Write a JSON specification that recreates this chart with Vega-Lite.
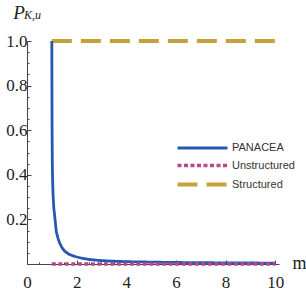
{
  "$schema": "https://vega.github.io/schema/vega-lite/v6.json",
  "autosize": "none",
  "width": 252,
  "height": 223,
  "padding": {"left": 27, "top": 41, "right": 27, "bottom": 34},
  "background": "white",
  "title": {"text": "K,u", "anchor": "start", "orient": "top", "frame": "group", "dx": -3, "offset": -28, "baseline": "alphabetic", "font": "Liberation Serif", "fontSize": 12, "fontStyle": "italic", "fontWeight": "normal", "color": "#222"},
  "config": {"view": {"stroke": null}},
  "data": {"values": [
    {"m": 1, "p": 1, "s": "Structured"},
    {"m": 10, "p": 1, "s": "Structured"},
    {"m": 1, "p": 1.0, "s": "PANACEA"},
    {"m": 1.005, "p": 0.75, "s": "PANACEA"},
    {"m": 1.01, "p": 0.6, "s": "PANACEA"},
    {"m": 1.02, "p": 0.45, "s": "PANACEA"},
    {"m": 1.03, "p": 0.38, "s": "PANACEA"},
    {"m": 1.05, "p": 0.31, "s": "PANACEA"},
    {"m": 1.08, "p": 0.25, "s": "PANACEA"},
    {"m": 1.12, "p": 0.21, "s": "PANACEA"},
    {"m": 1.18, "p": 0.145, "s": "PANACEA"},
    {"m": 1.25, "p": 0.115, "s": "PANACEA"},
    {"m": 1.32, "p": 0.093, "s": "PANACEA"},
    {"m": 1.4, "p": 0.075, "s": "PANACEA"},
    {"m": 1.52, "p": 0.057, "s": "PANACEA"},
    {"m": 1.7, "p": 0.043, "s": "PANACEA"},
    {"m": 1.92, "p": 0.034, "s": "PANACEA"},
    {"m": 2.2, "p": 0.026, "s": "PANACEA"},
    {"m": 2.46, "p": 0.021, "s": "PANACEA"},
    {"m": 2.8, "p": 0.017, "s": "PANACEA"},
    {"m": 3.27, "p": 0.0135, "s": "PANACEA"},
    {"m": 3.7, "p": 0.0115, "s": "PANACEA"},
    {"m": 4.2, "p": 0.01, "s": "PANACEA"},
    {"m": 5, "p": 0.0085, "s": "PANACEA"},
    {"m": 5.55, "p": 0.0075, "s": "PANACEA"},
    {"m": 6.5, "p": 0.0063, "s": "PANACEA"},
    {"m": 7.5, "p": 0.0055, "s": "PANACEA"},
    {"m": 8.5, "p": 0.0048, "s": "PANACEA"},
    {"m": 10, "p": 0.004, "s": "PANACEA"},
    {"m": 1, "p": 0, "s": "Unstructured"},
    {"m": 10, "p": 0, "s": "Unstructured"}
  ]},
  "mark": {"type": "line", "clip": false, "strokeCap": "butt"},
  "encoding": {
    "x": {"field": "m", "type": "quantitative",
      "scale": {"domain": [0, 10.15], "nice": false, "zero": false},
      "axis": {
        "values": [0, 0.5, 1, 1.5, 2, 2.5, 3, 3.5, 4, 4.5, 5, 5.5, 6, 6.5, 7, 7.5, 8, 8.5, 9, 9.5, 10],
        "labelExpr": "datum.value % 2 === 0 ? datum.value : ''",
        "grid": false,
        "domainColor": "#444", "tickColor": "#444", "domainWidth": 1, "tickWidth": 1,
        "tickSize": {"condition": {"test": "datum.value % 2 === 0", "value": -4}, "value": -2},
        "labelFont": "Liberation Serif", "labelFontSize": 17, "labelColor": "#222",
        "labelPadding": 14, "labelBaseline": "top", "labelFlush": false, "labelOverlap": false,
        "title": "m", "titleFont": "Liberation Serif", "titleFontSize": 18, "titleFontWeight": "normal", "titleColor": "#222",
        "titleX": 272, "titleY": 4, "titleAlign": "center", "titleBaseline": "alphabetic", "titleAnchor": null
      }
    },
    "y": {"field": "p", "type": "quantitative",
      "scale": {"domain": [0, 1], "nice": false},
      "axis": {
        "values": [0, 0.05, 0.1, 0.15, 0.2, 0.25, 0.3, 0.35, 0.4, 0.45, 0.5, 0.55, 0.6, 0.65, 0.7, 0.75, 0.8, 0.85, 0.9, 0.95, 1.0],
        "labelExpr": "(datum.value > 0.01 && abs(datum.value * 5 - round(datum.value * 5)) < 0.001) ? format(datum.value, '.1f') : ''",
        "grid": false,
        "domainColor": "#444", "tickColor": "#444", "domainWidth": 1, "tickWidth": 1,
        "tickSize": {"condition": {"test": "abs(datum.value * 5 - round(datum.value * 5)) < 0.001", "value": -4}, "value": -2},
        "labelFont": "Liberation Serif", "labelFontSize": 17, "labelColor": "#222",
        "labelPadding": 4, "labelFlush": false, "labelOverlap": false,
        "title": "P", "titleFont": "Liberation Serif", "titleFontSize": 19, "titleFontStyle": "italic", "titleFontWeight": "normal", "titleColor": "#222",
        "titleAngle": 0, "titleX": -8.5, "titleY": -23, "titleAlign": "center", "titleBaseline": "alphabetic", "titleAnchor": null
      }
    },
    "color": {"field": "s", "type": "nominal",
      "scale": {"domain": ["PANACEA", "Unstructured", "Structured"], "range": ["#2459b2", "#b9488a", "#c4a13b"]},
      "legend": {"title": null, "orient": "none", "legendX": 168.5, "legendY": 100.5, "padding": 0,
        "symbolType": "M-5,0H5", "symbolSize": 100, "symbolStrokeWidth": 3.2, "rowPadding": 4,
        "labelFont": "Liberation Sans", "labelFontSize": 11, "labelColor": "#333", "labelOffset": 22.5}
    },
    "strokeDash": {"field": "s", "type": "nominal",
      "scale": {"domain": ["PANACEA", "Unstructured", "Structured"], "range": [[1, 0], [4, 2.5], [20, 9]]},
      "legend": {"title": null, "orient": "none", "legendX": 168.5, "legendY": 100.5, "padding": 0,
        "symbolType": "M-5,0H5", "symbolSize": 100, "symbolStrokeWidth": 3.2, "rowPadding": 4,
        "labelFont": "Liberation Sans", "labelFontSize": 11, "labelColor": "#333", "labelOffset": 22.5}
    },
    "strokeWidth": {"field": "s", "type": "nominal",
      "scale": {"domain": ["PANACEA", "Unstructured", "Structured"], "range": [2.8, 3.8, 4]},
      "legend": null
    }
  }
}
